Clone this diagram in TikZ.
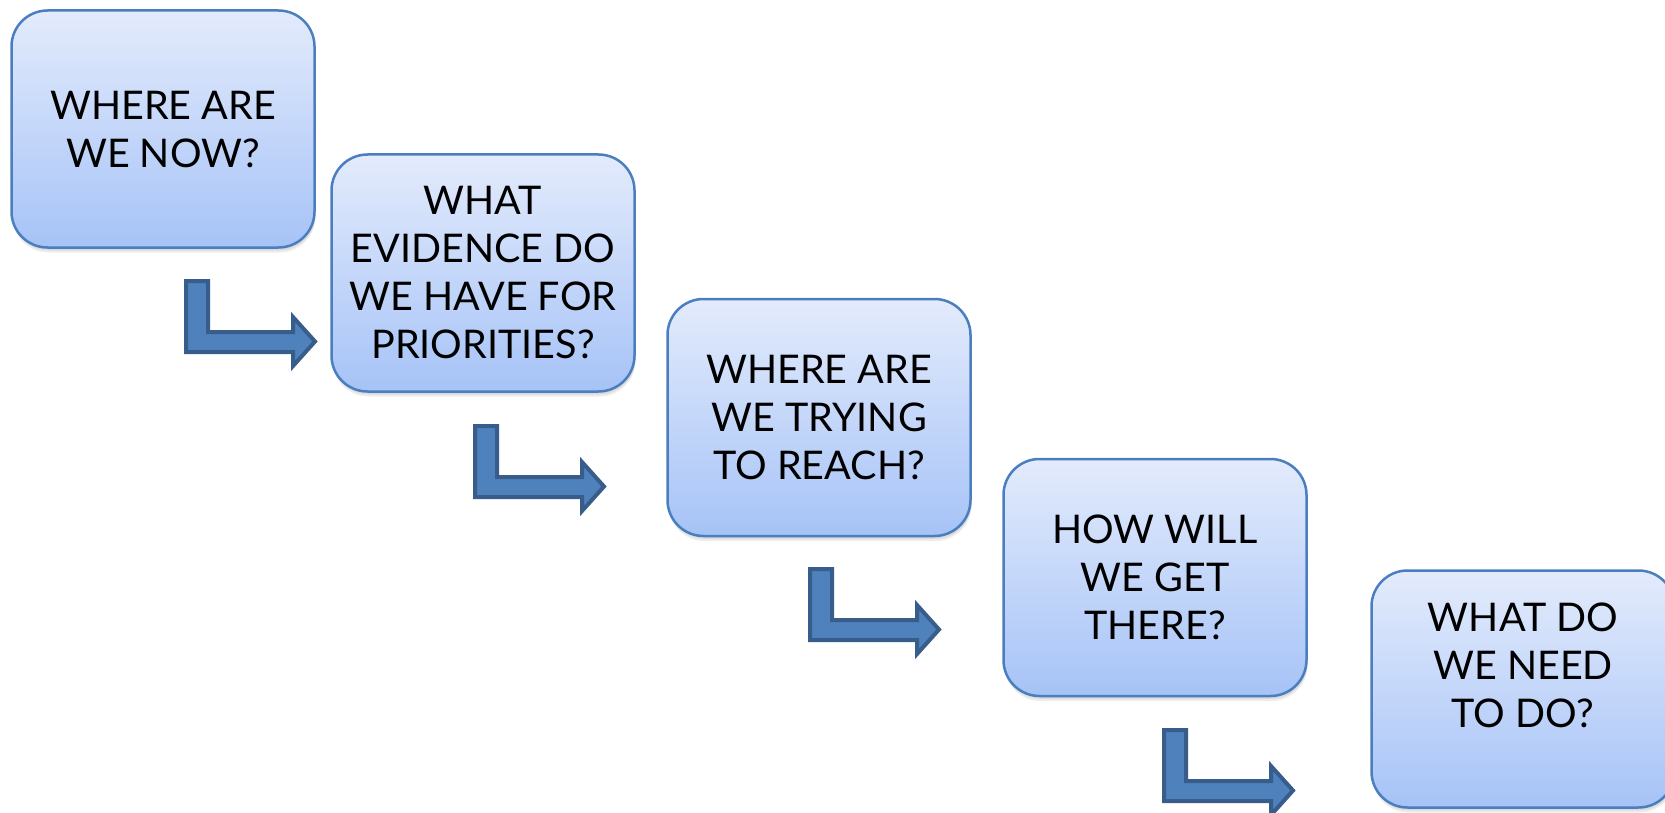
\documentclass[tikz,border=0pt]{standalone}
\usepackage{fontspec}
\setmainfont{Lato}
\definecolor{boxtop}{HTML}{E3EBFC}
\definecolor{boxbot}{HTML}{A6C3F7}
\definecolor{boxline}{HTML}{4A7EBF}
\definecolor{arrfill}{HTML}{4F81BD}
\definecolor{arrline}{HTML}{385D8A}
\tikzset{
  qbox/.style={rounded corners=36pt, minimum width=303pt, minimum height=237pt,
    top color=boxtop, bottom color=boxbot, draw=boxline, line width=2.5pt,
    align=center, font=\fontsize{39.5}{48}\selectfont, text=black, inner sep=0pt},
  qshadow/.style={rounded corners=36pt, minimum width=303pt, minimum height=237pt,
    fill=black, inner sep=0pt},
  bentarrow/.pic={
    \filldraw[fill=arrfill, draw=arrline, line width=4pt, line join=miter]
      (2,2) -- (24,2) -- (24,53) -- (109,53) -- (109,38) -- (131,62.5)
      -- (109,87) -- (109,73) -- (2,73) -- cycle;
  }
}
\begin{document}
\begin{tikzpicture}[x=1pt,y=-1pt]
\useasboundingbox (0,0) rectangle (1665,813);
% soft shadows
\foreach \cx/\cy in {163/129, 483/273, 819/417.5, 1155/577.5, 1523/689}{
  \node[qshadow, opacity=0.07] at (\cx+1,\cy+5) {};
  \node[qshadow, opacity=0.07] at (\cx+1,\cy+3) {};
}
\node[qbox] (b1) at (163,129) {WHERE ARE\\WE NOW?};
\node[qbox] (b2) at (483,273) {\fontsize{39.5}{44.5}\selectfont WHAT\\EVIDENCE DO\\WE HAVE FOR\\PRIORITIES?};
\node[qbox] (b3) at (819,417.5) {WHERE ARE\\WE TRYING\\TO REACH?};
\node[qbox] (b4) at (1155,577.5) {HOW WILL\\WE GET\\THERE?};
\node[qbox] (b5) at (1523,689) {\fontsize{39.5}{46}\selectfont WHAT DO\\WE NEED\\TO DO?\\\mbox{}};
\pic at (184,279) {bentarrow};
\pic at (473,424) {bentarrow};
\pic at (808,567) {bentarrow};
\pic at (1162,728) {bentarrow};
\end{tikzpicture}
\end{document}
